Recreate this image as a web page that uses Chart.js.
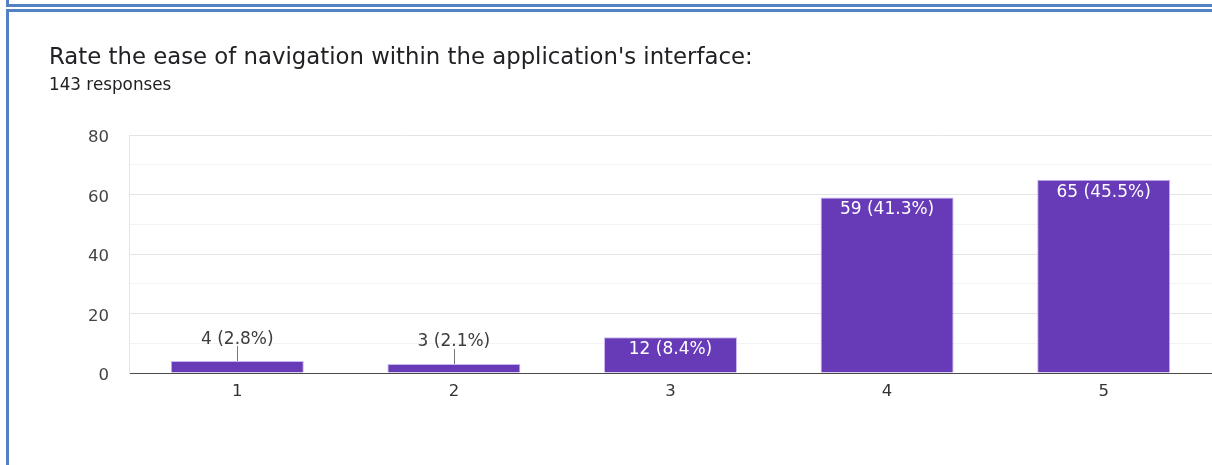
<!DOCTYPE html>
<html>
<head>
<meta charset="utf-8">
<script src="https://cdn.jsdelivr.net/npm/chart.js@4.4.1/dist/chart.umd.min.js"></script>
<style>
  html, body { margin: 0; padding: 0; background: #ffffff; }
  body { width: 1212px; height: 465px; position: relative; overflow: hidden; }
  #chart { position: absolute; left: 0; top: 0; }
  .frame { position: absolute; background: #5282c4; }
</style>
</head>
<body>
<!-- card frame lines -->
<div class="frame" style="left:6px; top:0; width:3px; height:7px;"></div>
<div class="frame" style="left:6px; top:4px; width:1206px; height:2.5px;"></div>
<div class="frame" style="left:6px; top:9px; width:1206px; height:2.5px;"></div>
<div class="frame" style="left:6px; top:9px; width:3px; height:456px;"></div>
<canvas id="chart" width="1212" height="465"></canvas>
<script>
// Survey question and answer counts
const questionTitle = "Rate the ease of navigation within the application's interface:";
const ratings = ['1', '2', '3', '4', '5'];
const responses = [4, 3, 12, 59, 65];
const yTicks = [0, 20, 40, 60, 80];

const totalResponses = responses.reduce((a, b) => a + b, 0);
const FONT = '"DejaVu Sans", sans-serif';

// Title and response count above the plot
const headerPlugin = {
  id: 'header',
  afterDraw(chart) {
    const ctx = chart.ctx;
    ctx.save();
    ctx.fillStyle = '#202124';
    ctx.textAlign = 'left';
    ctx.textBaseline = 'alphabetic';
    ctx.font = '22.8px ' + FONT;
    ctx.fillText(questionTitle, 49, 64);
    ctx.font = '16.8px ' + FONT;
    ctx.fillText(totalResponses + ' responses', 49, 90);
    ctx.restore();
  }
};

// "count (percent%)" labels: inside tall bars, above short ones with a leader line
const barLabelPlugin = {
  id: 'barLabels',
  afterDatasetsDraw(chart) {
    const ctx = chart.ctx;
    const meta = chart.getDatasetMeta(0);
    ctx.save();
    ctx.font = '17px ' + FONT;
    ctx.textAlign = 'center';
    ctx.textBaseline = 'middle';
    meta.data.forEach((bar, i) => {
      const v = responses[i];
      const text = v + ' (' + (v / totalResponses * 100).toFixed(1) + '%)';
      const h = bar.base - bar.y;
      if (h >= 30) {
        ctx.fillStyle = '#ffffff';
        ctx.fillText(text, bar.x, bar.y + 12.5);
      } else {
        ctx.strokeStyle = '#777777';
        ctx.lineWidth = 1;
        ctx.beginPath();
        ctx.moveTo(Math.round(bar.x) + 0.5, bar.y - 15);
        ctx.lineTo(Math.round(bar.x) + 0.5, bar.y);
        ctx.stroke();
        ctx.fillStyle = '#3c3c3c';
        ctx.fillText(text, bar.x, bar.y - 22);
      }
    });
    ctx.restore();
  }
};

new Chart(document.getElementById('chart'), {
  type: 'bar',
  data: {
    labels: ratings,
    datasets: [{
      data: responses,
      backgroundColor: '#673ab7',
      borderColor: '#c9b6ee',
      borderWidth: { left: 1, right: 1, top: 1, bottom: 0 },
      borderSkipped: 'bottom',
      barPercentage: 0.614,
      categoryPercentage: 1.0
    }]
  },
  options: {
    responsive: false,
    animation: false,
    devicePixelRatio: 1,
    layout: { padding: { left: 0, right: 0, top: 135, bottom: 0 } },
    plugins: {
      legend: { display: false },
      tooltip: { enabled: false },
      title: { display: false }
    },
    scales: {
      x: {
        grid: { display: false },
        border: { display: true, color: '#4a4a4a', width: 1 },
        ticks: {
          color: '#333333',
          font: { family: FONT, size: 16.5 },
          padding: 1
        },
        afterFit(scale) { scale.height = 92; }
      },
      y: {
        min: 0,
        max: 80,
        afterBuildTicks(scale) {
          const t = [];
          for (let v = 0; v <= 80; v += 10) t.push({ value: v });
          scale.ticks = t;
        },
        grid: {
          drawTicks: false,
          color(c) {
            const v = c.tick.value;
            if (v === 0) return '#4a4a4a';
            return yTicks.includes(v) ? '#e4e4e4' : '#f3f3f3';
          }
        },
        border: { display: true, color: '#e4e4e4' },
        ticks: {
          color: '#444444',
          font: { family: FONT, size: 16.5 },
          padding: 20,
          labelOffset: 3,
          callback: (v) => (yTicks.includes(v) ? String(v) : '')
        },
        afterFit(scale) { scale.width = 129; }
      }
    }
  },
  plugins: [headerPlugin, barLabelPlugin]
});
</script>
</body>
</html>
